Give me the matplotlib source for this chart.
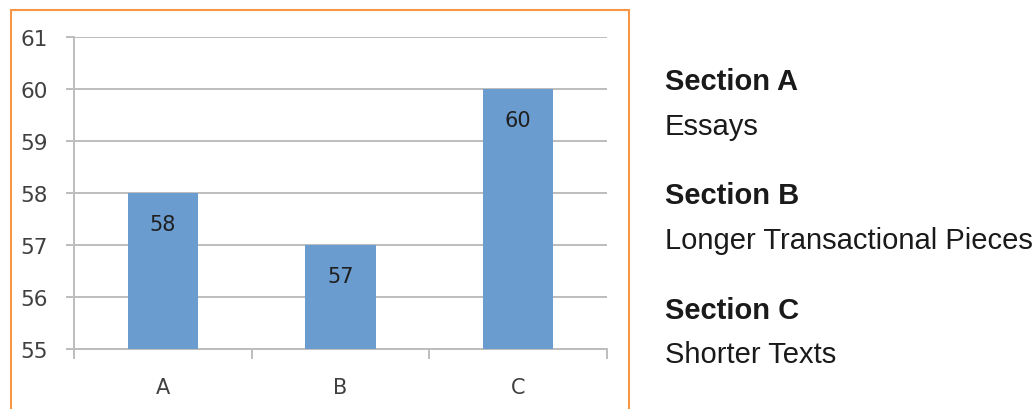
import matplotlib
matplotlib.use("Agg")
import matplotlib.pyplot as plt
from matplotlib.patches import Rectangle

categories = ["A", "B", "C"]
values = [58, 57, 60]
yticks = [55, 56, 57, 58, 59, 60, 61]
section_titles = ["Section A", "Section B", "Section C"]
section_descs = ["Essays", "Longer Transactional Pieces", "Shorter Texts"]

W, H = 1036, 410
fig = plt.figure(figsize=(W / 100, H / 100), dpi=100)
fig.patch.set_facecolor("white")

def fx(px):
    return px / W

def fy(py):
    return 1 - py / H

ax = fig.add_axes([fx(74), fy(350), fx(607) - fx(74), fy(38) - fy(350)])
bar_color = "#6A9CCF"
grid_color = "#BDBDBD"
text_color = "#404040"

x = list(range(len(categories)))
ax.bar(x, values, width=0.395, color=bar_color, zorder=3, bottom=0)
ax.set_xlim(-0.5, 2.5)
ax.set_ylim(55, 61)
ax.set_yticks(yticks)
ax.set_yticklabels([str(t) for t in yticks])
ax.yaxis.grid(True, color=grid_color, linewidth=1.4, zorder=0)
ax.set_xticks([-0.5, 0.5, 1.5, 2.5])
ax.set_xticklabels([])
ax.set_xticks(x, minor=True)
ax.set_xticklabels(categories, minor=True)
ax.tick_params(axis="x", which="major", length=7, width=1.4, color=grid_color, direction="out")
ax.tick_params(axis="x", which="minor", length=0, pad=20, labelsize=15, labelcolor=text_color)
ax.tick_params(axis="y", length=6, width=1.4, color=grid_color, pad=13, labelsize=15.5, labelcolor=text_color)
for s in ["top", "right"]:
    ax.spines[s].set_visible(False)
for s in ["left", "bottom"]:
    ax.spines[s].set_color(grid_color)
    ax.spines[s].set_linewidth(1.4)

for xi, v in zip(x, values):
    ax.annotate(str(v), (xi, v), xytext=(0, -31), textcoords="offset pixels",
                ha="center", va="center", fontsize=15, color="#1F1F1F", zorder=4)

fig.patches.append(Rectangle((fx(11), fy(440)), fx(629) - fx(11), fy(11) - fy(440),
                             transform=fig.transFigure, fill=False,
                             edgecolor="#F79646", linewidth=1.5, clip_on=False))

title_y = [82, 196, 311]
desc_y = [127, 241, 355]
for t, d, ty, dy in zip(section_titles, section_descs, title_y, desc_y):
    fig.text(fx(665), fy(ty), t, fontsize=21, fontweight="bold", family="Liberation Sans",
             color="#1A1A1A", ha="left", va="center")
    fig.text(fx(665), fy(dy), d, fontsize=21, family="Liberation Sans",
             color="#1A1A1A", ha="left", va="center")

fig.savefig("out.png", dpi=100, facecolor="white")
